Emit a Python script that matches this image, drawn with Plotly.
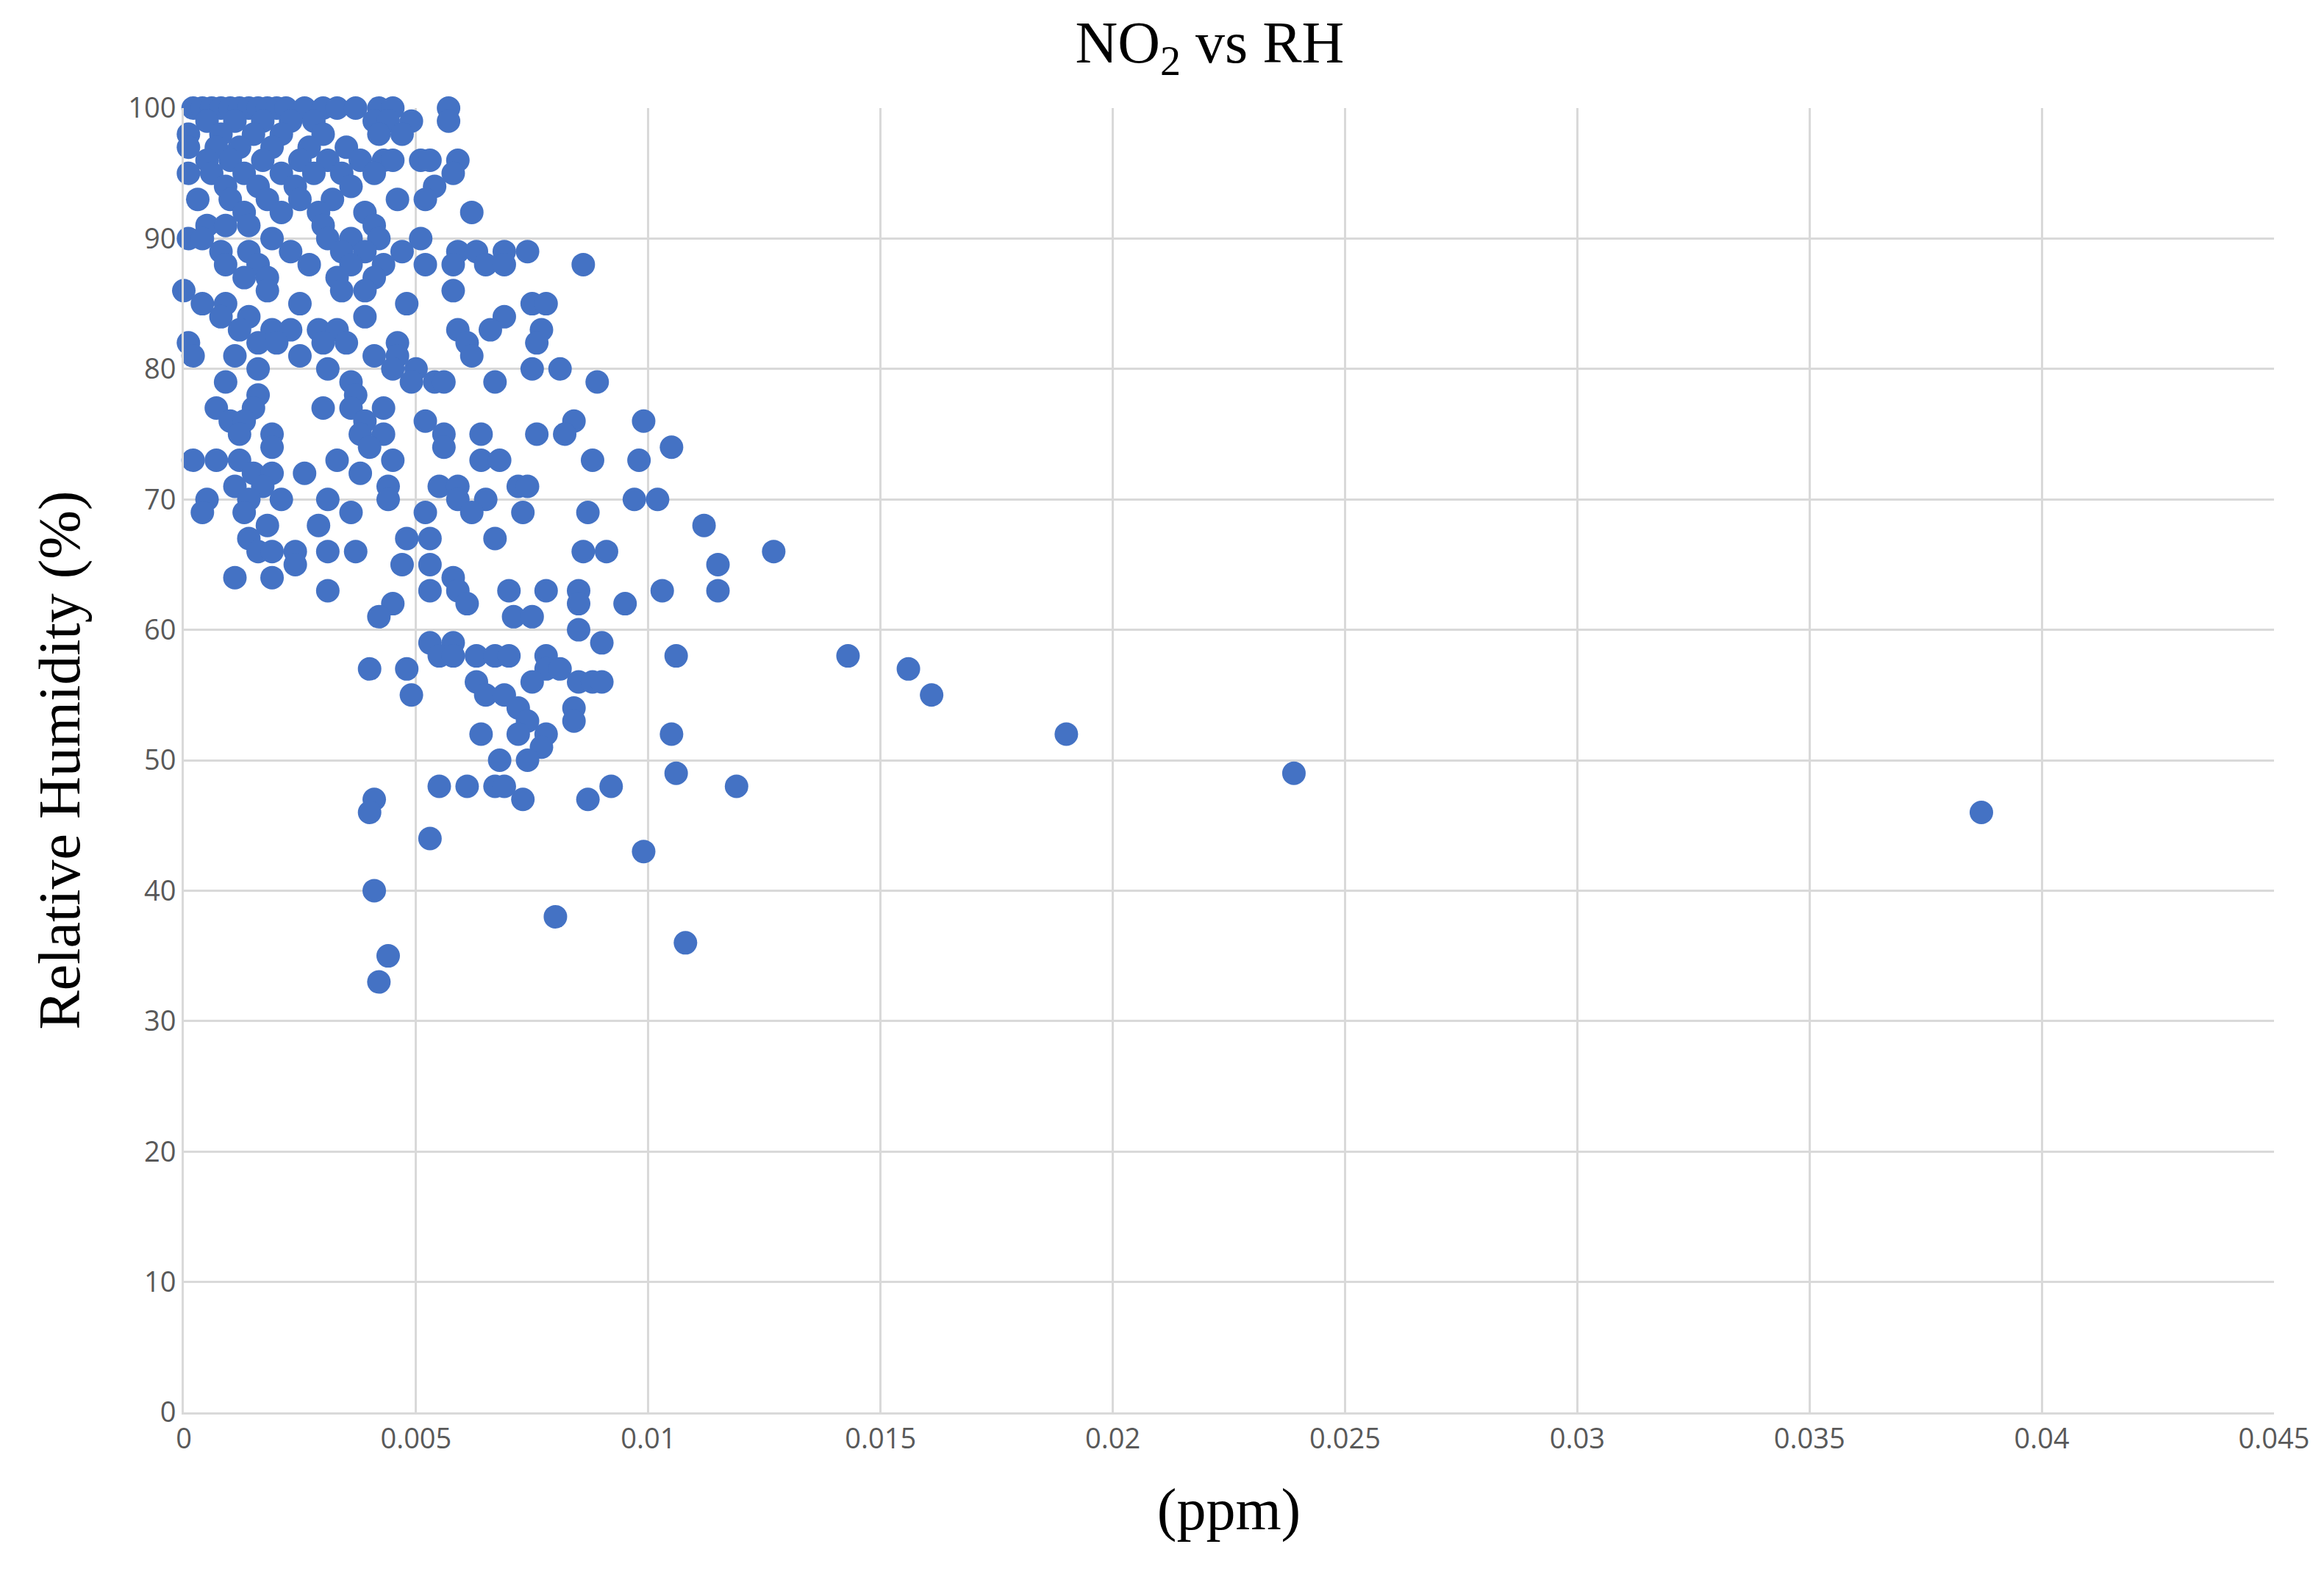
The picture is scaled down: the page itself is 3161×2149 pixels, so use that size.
import plotly.graph_objects as go

# RH levels (%) and the NO2 readings (ppm) seen at each level
rh_levels = [100, 99, 98, 97, 96, 95, 94, 93, 92, 91, 90, 89, 88, 87, 86, 85, 84, 83, 82, 81,
             80, 79, 78, 77, 76, 75, 74, 73, 72, 71, 70, 69, 68, 67, 66, 65, 64, 63, 62, 61,
             60, 59, 58, 57, 56, 55, 54, 53, 52, 51, 50, 49, 48, 47, 46, 44, 43, 40, 38, 36, 35, 33]
ppm_by_level = [
    [0.0002, 0.0004, 0.0006, 0.0008, 0.001, 0.0012, 0.0014, 0.0016, 0.0018, 0.002, 0.0022, 0.0026, 0.003, 0.0033, 0.0037, 0.0042, 0.0045, 0.0057],
    [0.0005, 0.0011, 0.0017, 0.0023, 0.0028, 0.0041, 0.0044, 0.0049, 0.0057],
    [0.0001, 0.0008, 0.0015, 0.0021, 0.003, 0.0042, 0.0047],
    [0.0001, 0.0007, 0.0012, 0.0019, 0.0027, 0.0035],
    [0.0005, 0.001, 0.0017, 0.0025, 0.0031, 0.0038, 0.0043, 0.0045, 0.0051, 0.0053, 0.0059],
    [0.0001, 0.0006, 0.0013, 0.0021, 0.0028, 0.0034, 0.0041, 0.0058],
    [0.0009, 0.0016, 0.0024, 0.0036, 0.0054],
    [0.0003, 0.001, 0.0018, 0.0025, 0.0032, 0.0046, 0.0052],
    [0.0013, 0.0021, 0.0029, 0.0039, 0.0062],
    [0.0005, 0.0009, 0.0014, 0.003, 0.0041],
    [0.0001, 0.0004, 0.0019, 0.0031, 0.0036, 0.0042, 0.0051],
    [0.0008, 0.0014, 0.0023, 0.0034, 0.0039, 0.0047, 0.0059, 0.0063, 0.0069, 0.0074],
    [0.0009, 0.0016, 0.0027, 0.0036, 0.0043, 0.0052, 0.0058, 0.0065, 0.0069, 0.0086],
    [0.0013, 0.0018, 0.0033, 0.0041],
    [0.0, 0.0018, 0.0034, 0.0039, 0.0058],
    [0.0004, 0.0009, 0.0025, 0.0048, 0.0075, 0.0078],
    [0.0008, 0.0014, 0.0039, 0.0069],
    [0.0012, 0.0019, 0.0023, 0.0029, 0.0033, 0.0059, 0.0066, 0.0077],
    [0.0001, 0.0016, 0.002, 0.003, 0.0035, 0.0046, 0.0061, 0.0076],
    [0.0002, 0.0011, 0.0025, 0.0041, 0.0046, 0.0062],
    [0.0016, 0.0031, 0.0045, 0.005, 0.0075, 0.0081],
    [0.0009, 0.0036, 0.0049, 0.0054, 0.0056, 0.0067, 0.0089],
    [0.0016, 0.0037],
    [0.0007, 0.0015, 0.003, 0.0036, 0.0043],
    [0.001, 0.0013, 0.0039, 0.0052, 0.0084, 0.0099],
    [0.0012, 0.0019, 0.0038, 0.0043, 0.0056, 0.0064, 0.0076, 0.0082],
    [0.0019, 0.004, 0.0056, 0.0105],
    [0.0002, 0.0007, 0.0012, 0.0033, 0.0045, 0.0064, 0.0068, 0.0088, 0.0098],
    [0.0015, 0.0019, 0.0026, 0.0038],
    [0.0011, 0.0017, 0.0044, 0.0055, 0.0059, 0.0072, 0.0074],
    [0.0005, 0.0014, 0.0021, 0.0031, 0.0044, 0.0059, 0.0065, 0.0097, 0.0102],
    [0.0004, 0.0013, 0.0036, 0.0052, 0.0062, 0.0073, 0.0087],
    [0.0018, 0.0029, 0.0112],
    [0.0014, 0.0048, 0.0053, 0.0067],
    [0.0016, 0.0019, 0.0024, 0.0031, 0.0037, 0.0086, 0.0091, 0.0127],
    [0.0024, 0.0047, 0.0053, 0.0115],
    [0.0011, 0.0019, 0.0058],
    [0.0031, 0.0053, 0.0059, 0.007, 0.0078, 0.0085, 0.0103, 0.0115],
    [0.0045, 0.0061, 0.0085, 0.0095],
    [0.0042, 0.0071, 0.0075],
    [0.0085],
    [0.0053, 0.0058, 0.009],
    [0.0055, 0.0058, 0.0063, 0.0067, 0.007, 0.0078, 0.0106, 0.0143],
    [0.004, 0.0048, 0.0078, 0.0081, 0.0156],
    [0.0063, 0.0075, 0.0085, 0.0088, 0.009],
    [0.0049, 0.0065, 0.0069, 0.0161],
    [0.0072, 0.0084],
    [0.0074, 0.0084],
    [0.0064, 0.0072, 0.0078, 0.0105, 0.019],
    [0.0077],
    [0.0068, 0.0074],
    [0.0106, 0.0239],
    [0.0055, 0.0061, 0.0067, 0.0069, 0.0092, 0.0119],
    [0.0041, 0.0073, 0.0087],
    [0.004, 0.0387],
    [0.0053],
    [0.0099],
    [0.0041],
    [0.008],
    [0.0108],
    [0.0044],
    [0.0042],
]

x_ticks = [0, 0.005, 0.01, 0.015, 0.02, 0.025, 0.03, 0.035, 0.04, 0.045]
x_tick_labels = ["0", "0.005", "0.01", "0.015", "0.02", "0.025", "0.03", "0.035", "0.04", "0.045"]
y_ticks = [0, 10, 20, 30, 40, 50, 60, 70, 80, 90, 100]

ppm = []
rh = []
for level, vals in zip(rh_levels, ppm_by_level):
    ppm += vals
    rh += [level] * len(vals)

fig = go.Figure(go.Scatter(
    x=ppm, y=rh, mode="markers",
    marker=dict(color="#4472C4", size=32, line=dict(width=0)),
    cliponaxis=False,
))

grid = "#d9d9d9"
tick_font = dict(family="Open Sans", size=38, color="#595959")
serif = "Liberation Serif"

fig.update_layout(
    width=3161, height=2149,
    paper_bgcolor="white", plot_bgcolor="white",
    margin=dict(l=242, r=76, t=139, b=236),
    showlegend=False,
    title=dict(text="NO<sub>2</sub> vs RH", x=0.518, xanchor="center", y=0.99, yanchor="top",
               font=dict(family=serif, size=80, color="black")),
    xaxis=dict(range=[0, 0.045], tickvals=x_ticks, ticktext=x_tick_labels,
               showgrid=True, gridcolor=grid, gridwidth=3, zeroline=False,
               showline=True, linecolor=grid, linewidth=3, mirror=False,
               tickfont=tick_font, ticks="",
               title=dict(text="(ppm)", font=dict(family=serif, size=80, color="black"), standoff=45)),
    yaxis=dict(range=[0, 100], tickvals=y_ticks,
               showgrid=True, gridcolor=grid, gridwidth=3, zeroline=False,
               showline=True, linecolor=grid, linewidth=3,
               tickfont=tick_font, ticks="", ticksuffix="  ",
               title=dict(text="Relative Humidity (%)", font=dict(family=serif, size=80, color="black"), standoff=40)),
)

fig.write_html("out.html")
